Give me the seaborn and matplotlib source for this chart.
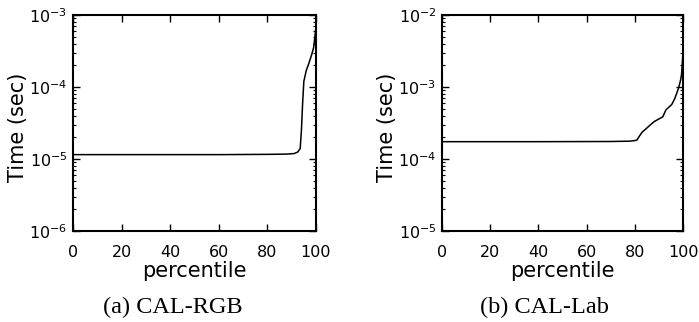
import numpy as np
import pandas as pd
import matplotlib
matplotlib.use("Agg")
import matplotlib.pyplot as plt
import seaborn as sns

# ---- data ----
rgb_pct = [0, 20, 40, 60, 80, 88, 91, 92.5, 93.5, 94.0, 94.5, 95.0, 96.0, 97.0, 98.2, 99.0, 99.6, 100]
rgb_time = [1.15e-5, 1.15e-5, 1.15e-5, 1.15e-5, 1.16e-5, 1.17e-5, 1.19e-5, 1.25e-5, 1.4e-5,
            2.5e-5, 6e-5, 1.2e-4, 1.7e-4, 2.1e-4, 2.8e-4, 3.5e-4, 5.2e-4, 7e-4]

lab_pct = [0, 40, 70, 78, 80.8, 82, 83, 84.5, 86.3, 88, 90, 91.6, 92.9, 94, 95.3, 96.5,
           97.4, 98.3, 99.0, 99.4, 99.8, 100]
lab_time = [1.74e-4, 1.74e-4, 1.75e-4, 1.77e-4, 1.82e-4, 2.1e-4, 2.35e-4, 2.6e-4, 2.95e-4,
            3.3e-4, 3.6e-4, 3.85e-4, 4.8e-4, 5.2e-4, 5.7e-4, 6.8e-4, 8.2e-4, 1.0e-3,
            1.25e-3, 1.5e-3, 2.4e-3, 3.0e-3]

panels = [
    dict(x=rgb_pct, y=rgb_time, ylim=(1e-6, 1e-3), caption="(a) CAL-RGB"),
    dict(x=lab_pct, y=lab_time, ylim=(1e-5, 1e-2), caption="(b) CAL-Lab"),
]
xticks = [0, 20, 40, 60, 80, 100]

sns.set_theme(style="ticks")
plt.rcParams["font.family"] = ["DejaVu Sans"]
plt.rcParams.update({"text.color": "black", "axes.labelcolor": "black",
                     "xtick.color": "black", "ytick.color": "black"})

fig = plt.figure(figsize=(6.99, 3.22), dpi=100)
positions = [[73 / 699, 1 - 231 / 322, 243 / 699, 216 / 322],
             [442 / 699, 1 - 231 / 322, 241 / 699, 216 / 322]]
caption_x = [173 / 699, 544 / 699]

for i, p in enumerate(panels):
    ax = fig.add_axes(positions[i])
    df = pd.DataFrame({"percentile": p["x"], "time": p["y"]})
    sns.lineplot(data=df, x="percentile", y="time", ax=ax, color="black", lw=1.1)
    ax.set_yscale("log")
    ax.set_ylim(*p["ylim"])
    ax.set_xlim(0, 100)
    ax.set_xticks(xticks)
    ax.set_xlabel("percentile", fontsize=15, labelpad=1, color="black")
    ax.set_ylabel("Time (sec)", fontsize=15, color="black")
    ax.yaxis.set_label_coords(-0.185, 0.48)
    for s in ax.spines.values():
        s.set_visible(True)
        s.set_linewidth(1.5)
        s.set_color("black")
    ax.tick_params(axis="both", which="both", direction="in", top=True, right=True,
                   colors="black", labelcolor="black", labelsize=11.5)
    ax.tick_params(axis="both", which="major", length=5, width=1.0)
    ax.tick_params(axis="y", which="minor", length=2.5, width=0.8)
    ax.tick_params(axis="x", which="major", pad=10)
    ax.tick_params(axis="y", which="major", pad=4)
    ax.grid(False)
    fig.text(caption_x[i], 1 - 307 / 322, p["caption"], ha="center", va="center",
             fontsize=17.5, family="Liberation Serif", color="black")

fig.savefig("out.png", dpi=100, facecolor="white")
